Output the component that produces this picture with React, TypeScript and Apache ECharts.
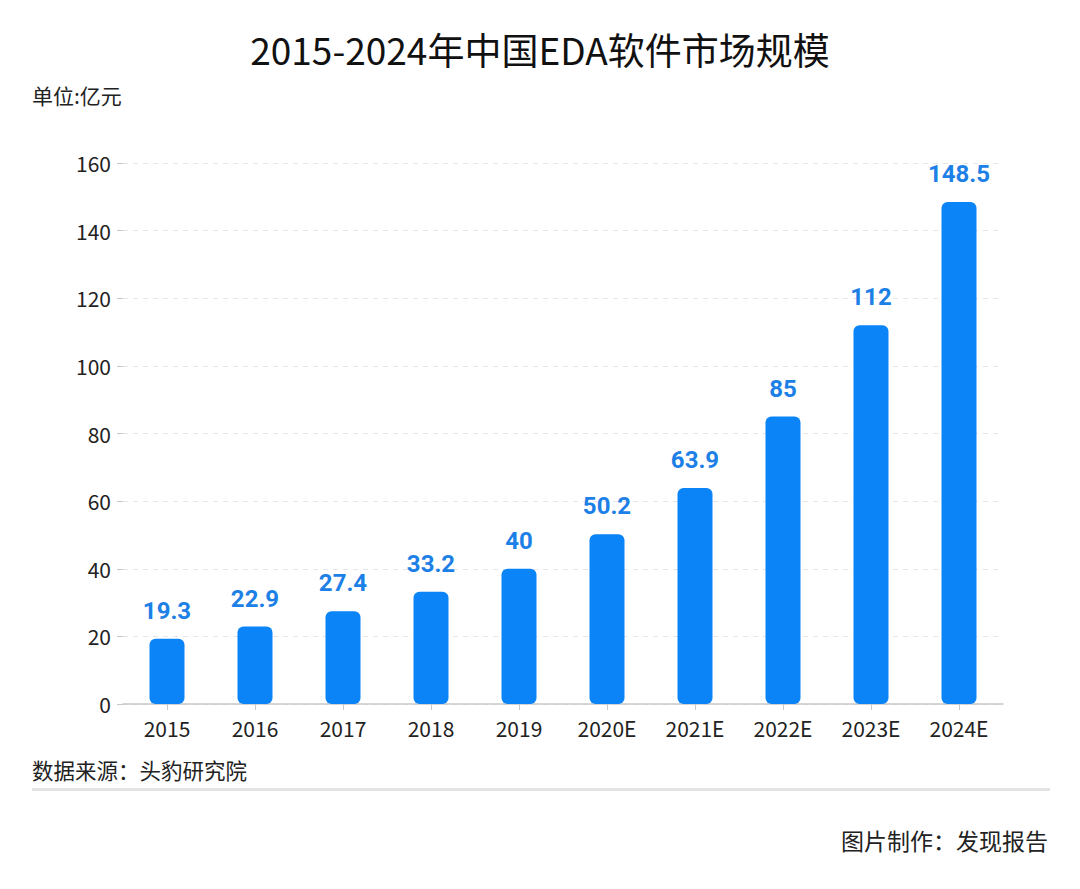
import React, { useEffect, useRef } from "react";
import * as echarts from "echarts";

const categories = ["2015", "2016", "2017", "2018", "2019", "2020E", "2021E", "2022E", "2023E", "2024E"];
const marketSize = [19.3, 22.9, 27.4, 33.2, 40, 50.2, 63.9, 85, 112, 148.5];
const yTicks = { min: 0, max: 160, interval: 20 };

const CJK = '"Noto Sans CJK SC", "Noto Sans", sans-serif';

export default function App() {
  const ref = useRef<HTMLDivElement>(null);
  useEffect(() => {
    if (!ref.current) return;
    const chart = echarts.init(ref.current, undefined, { renderer: "svg" });
    chart.setOption({
      animation: false,
      backgroundColor: "#ffffff",
      title: {
        text: "2015-2024年中国EDA软件市场规模",
        left: "center",
        top: 25,
        textStyle: { fontFamily: CJK, fontSize: 37, fontWeight: "normal", color: "#111111" },
      },
      grid: { left: 123, right: 77, top: 163, bottom: 185, containLabel: false },
      xAxis: {
        type: "category",
        data: categories,
        axisLine: { show: true, lineStyle: { color: "#c8c8c8", width: 1.5 } },
        axisTick: { show: true, alignWithLabel: true, length: 6, lineStyle: { color: "#c8c8c8" } },
        axisLabel: { color: "#222222", fontSize: 21, fontFamily: CJK, margin: 13 },
      },
      yAxis: {
        type: "value",
        min: yTicks.min,
        max: yTicks.max,
        interval: yTicks.interval,
        axisLine: { show: false },
        axisTick: { show: true, length: 6, lineStyle: { color: "#c8c8c8" } },
        axisLabel: { color: "#222222", fontSize: 21, fontFamily: CJK, margin: 12 },
        splitLine: { show: true, lineStyle: { color: "#e6e6e6", type: [5, 5], width: 1 } },
      },
      series: [
        {
          type: "bar",
          data: marketSize,
          barWidth: 35,
          itemStyle: { color: "#0a84f7", borderRadius: 6 },
          label: {
            show: true,
            position: "top",
            distance: 16,
            color: "#1c80e6",
            fontSize: 24,
            fontWeight: "bold",
            fontFamily: 'Roboto, "DejaVu Sans Condensed", sans-serif',
          },
        },
      ],
      graphic: [
        {
          type: "text",
          left: 32,
          top: 84,
          style: { text: "单位:亿元", font: `21px ${CJK}`, fill: "#222222" },
        },
        {
          type: "text",
          left: 32,
          top: 759,
          style: { text: "数据来源：头豹研究院", font: `21.5px ${CJK}`, fill: "#222222" },
        },
        {
          type: "rect",
          shape: { x: 32, y: 788, width: 1018, height: 3 },
          style: { fill: "#e3e3e3" },
        },
        {
          type: "text",
          right: 32,
          top: 828,
          style: { text: "图片制作：发现报告", font: `23px ${CJK}`, fill: "#222222" },
        },
      ],
    });
    return () => chart.dispose();
  }, []);
  return (
    <div
      ref={ref}
      style={{ position: "absolute", left: 0, top: 0, width: 1080, height: 889 }}
    />
  );
}
